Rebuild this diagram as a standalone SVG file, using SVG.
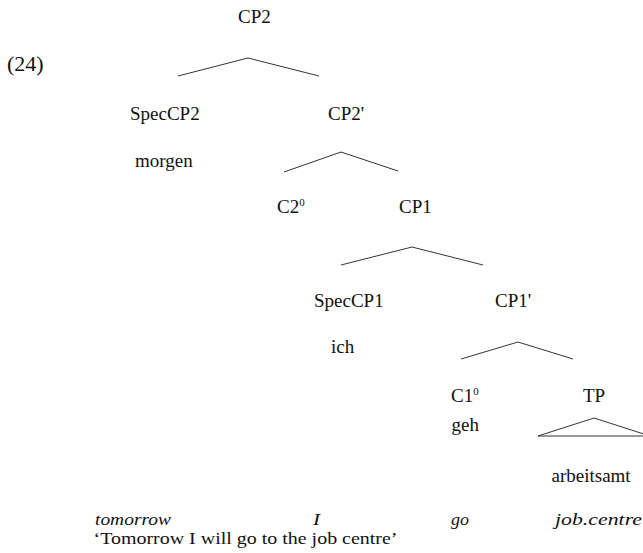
<svg xmlns="http://www.w3.org/2000/svg" width="643" height="553" viewBox="0 0 643 553">
<style>
text{font-family:"Liberation Serif","Times New Roman",serif;font-size:19px;fill:#111}
.it{font-style:italic}
.sm{font-size:17px}
.sup{font-size:11px}
.ex{font-size:22px}
.edge{fill:none;stroke:#333;stroke-width:1}
</style>
<rect width="643" height="553" fill="#fff"/>
<text class="ex" x="7" y="70.5">(24)</text>
<g id="connectors">
<polyline class="edge" points="178,76 248,58 319,76"/>
<polyline class="edge" points="284,172 341,152 398,171"/>
<polyline class="edge" points="341,265 412,247 483,265"/>
<polyline class="edge" points="461,359 518,342 573,359"/>
<polygon class="edge" points="538,436 594,418 650,436"/>
</g>
<g id="n-cp2"><text x="238" y="23.3">CP2</text></g>
<g id="n-speccp2"><text x="130" y="120">SpecCP2</text></g>
<g id="n-morgen"><text x="135" y="167">morgen</text></g>
<g id="n-cp2bar"><text x="328" y="120">CP2'</text></g>
<g id="n-c2"><text x="277" y="213">C2<tspan class="sup" dy="-7.5">0</tspan></text></g>
<g id="n-cp1"><text x="399" y="213">CP1</text></g>
<g id="n-speccp1"><text x="314" y="306.7">SpecCP1</text></g>
<g id="n-ich"><text x="331" y="353.3">ich</text></g>
<g id="n-cp1bar"><text x="495" y="306.7">CP1'</text></g>
<g id="n-c1"><text x="451" y="401.7">C1<tspan class="sup" dy="-6.5">0</tspan></text></g>
<g id="n-geh"><text x="451.5" y="431">geh</text></g>
<g id="n-tp"><text x="583" y="401.7">TP</text></g>
<g id="n-arbeitsamt"><text x="551.5" y="481.7">arbeitsamt</text></g>
<g id="gloss">
<text class="it sm" x="95" y="524.5" textLength="76" lengthAdjust="spacingAndGlyphs">tomorrow</text>
<text class="it sm" x="313" y="524.5" textLength="7" lengthAdjust="spacingAndGlyphs">I</text>
<text class="it sm" x="451" y="524.5" textLength="18" lengthAdjust="spacingAndGlyphs">go</text>
<text class="it sm" x="555" y="524.5" textLength="87" lengthAdjust="spacingAndGlyphs">job.centre</text>
<text class="sm" x="93.5" y="543.5" textLength="304" lengthAdjust="spacingAndGlyphs">‘Tomorrow I will go to the job centre’</text>
</g>
</svg>
